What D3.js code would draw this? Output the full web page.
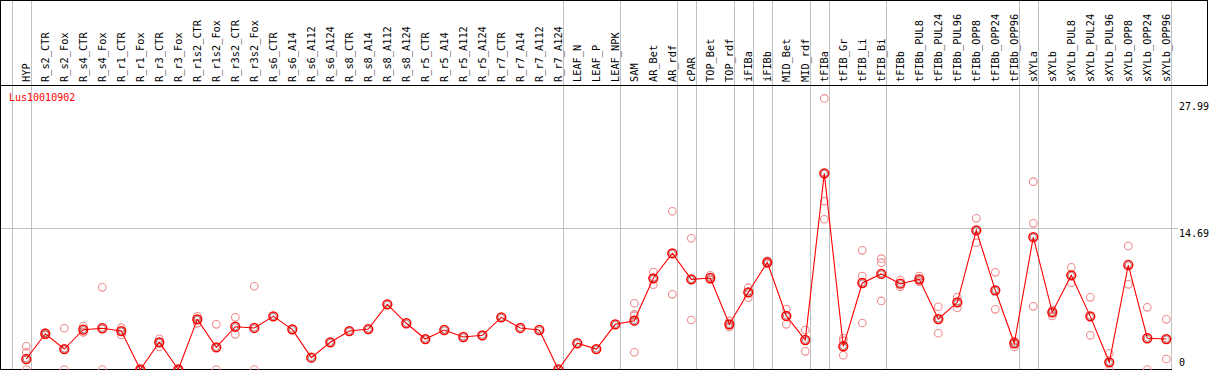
<!DOCTYPE html>
<html><head><meta charset="utf-8">
<script src="https://cdn.jsdelivr.net/npm/d3@7"></script>
<style>html,body{margin:0;padding:0;background:#fff;overflow:hidden}</style>
</head><body>
<svg id="c" width="1209" height="370"></svg>
<script>
const title = "Lus10010902";
const categories = ["HYP","R_s2_CTR","R_s2_Fox","R_s4_CTR","R_s4_Fox","R_r1_CTR","R_r1_Fox","R_r3_CTR","R_r3_Fox","R_r1s2_CTR","R_r1s2_Fox","R_r3s2_CTR","R_r3s2_Fox","R_s6_CTR","R_s6_A14","R_s6_A112","R_s6_A124","R_s8_CTR","R_s8_A14","R_s8_A112","R_s8_A124","R_r5_CTR","R_r5_A14","R_r5_A112","R_r5_A124","R_r7_CTR","R_r7_A14","R_r7_A112","R_r7_A124","LEAF_N","LEAF_P","LEAF_NPK","SAM","AR_Bet","AR_rdf","cPAR","TOP_Bet","TOP_rdf","iFIBa","iFIBb","MID_Bet","MID_rdf","tFIBa","tFIB_Gr","tFIB_Li","tFIB_Bi","tFIBb","tFIBb_PUL8","tFIBb_PUL24","tFIBb_PUL96","tFIBb_OPP8","tFIBb_OPP24","tFIBb_OPP96","sXYLa","sXYLb","sXYLb_PUL8","sXYLb_PUL24","sXYLb_PUL96","sXYLb_OPP8","sXYLb_OPP24","sXYLb_OPP96"];
const means = [1.09,3.72,2.13,4.14,4.29,4.0,0,2.83,0,5.22,2.31,4.45,4.32,5.53,4.18,1.23,2.83,4.0,4.21,6.78,4.81,3.17,4.11,3.38,3.56,5.43,4.32,4.11,0,2.73,2.13,4.7,5.08,9.49,12.09,9.38,9.52,4.7,8.03,11.15,5.57,3.07,20.41,2.41,9.0,9.94,8.93,9.38,5.25,6.99,14.48,8.24,2.73,13.78,5.95,9.8,5.53,0.75,10.87,3.25,3.17];
const replicates = [[2.41,1.79,0],[3.85,3.6],[4.29,0],[4.49,3.87],[8.55,0],[4.35,3.59],[0,0],[3.2,2.34],[0,0],[5.53,4.8],[4.7,0],[5.43,3.66],[8.66,0],[],[],[],[],[],[],[],[],[],[],[],[],[],[],[],[],[],[],[],[6.89,5.74,5.6,1.79],[10.14,8.82],[16.46,7.82],[13.65,5.15],[9.8,9.31],[5.05,4.42],[8.51,7.47],[11.3,11.0],[6.29,4.7],[4.11,1.89],[28.2,17.5,15.63],[3.25,3.0,1.48],[12.4,9.73,4.84],[11.53,11.11,7.13],[9.3,8.6],[9.73,9.14],[6.53,3.77],[7.54,6.4],[15.73,13.19],[10.11,6.26],[2.95,2.34],[19.54,15.21,6.57],[6.19,5.57],[10.63,9.03],[7.51,3.56],[1.69,0],[12.85,8.86],[6.47,0],[5.22,1.09]];
const groupEnds = ["HYP","R_r7_A124","LEAF_NPK","AR_rdf","cPAR","TOP_rdf","iFIBa","iFIBb","MID_rdf","tFIBa","tFIB_Bi","tFIBb_OPP96","sXYLa","sXYLb_OPP96"];
const tickValues = [0, 14.69, 27.99];
const yMax = 29.38;

const svg = d3.select("#c");
const font = "'DejaVu Sans Mono', monospace";
const x = d3.scalePoint().domain(categories).range([26.3, 1166.3]);
const step = x.step();
const y = d3.scaleLinear().domain([0, yMax]).range([369.5, 87.1]);

const g0 = svg.append("g").attr("shape-rendering","crispEdges");
const sepX = [x(categories[0]) - step + 4.2].concat(groupEnds.map(c => x(c) + 4.2));
g0.selectAll("line.sep").data(sepX).join("line")
  .attr("x1", d => Math.round(d)+0.5).attr("x2", d => Math.round(d)+0.5)
  .attr("y1", 0).attr("y2", 370).attr("stroke", "#c0c0c0").attr("stroke-width", 1);
g0.append("line").attr("x1", 0).attr("x2", 1178)
  .attr("y1", Math.round(y(14.69))+0.5).attr("y2", Math.round(y(14.69))+0.5)
  .attr("stroke", "#c0c0c0");
g0.append("line").attr("x1",0).attr("x2",1208).attr("y1",0.5).attr("y2",0.5).attr("stroke","#000");
g0.append("line").attr("x1",0).attr("x2",1208).attr("y1",85.5).attr("y2",85.5).attr("stroke","#000");
g0.append("line").attr("x1",1207.5).attr("x2",1207.5).attr("y1",0).attr("y2",86).attr("stroke","#000");
g0.append("line").attr("x1",0.5).attr("x2",0.5).attr("y1",0).attr("y2",370).attr("stroke","#000");
g0.append("line").attr("x1",0).attr("x2",1172).attr("y1",369.5).attr("y2",369.5).attr("stroke","#000");

svg.append("g").selectAll("text").data(categories).join("text")
  .attr("transform", d => `translate(${x(d)+3.8},82) rotate(-90)`)
  .attr("font-family", font).attr("font-size", 10.3).attr("fill", "#000")
  .text(d => d);

svg.append("text").attr("x", 9).attr("y", 101).attr("font-family", font)
  .attr("font-size", 10).attr("fill", "#ff0000").text(title);

svg.append("g").selectAll("text").data(tickValues).join("text")
  .attr("x", 1179)
  .attr("y", d => Math.min(y(d) + 8.5, 365.5) + (d === 27.99 ? 1.5 : 0))
  .attr("font-family", font).attr("font-size", 10).attr("fill", "#000")
  .text(d => d === 0 ? "0" : d.toFixed(2));

const repPts = [];
replicates.forEach((arr, i) => arr.forEach(v => repPts.push({c: categories[i], v})));
svg.append("g").selectAll("circle").data(repPts).join("circle")
  .attr("cx", d => x(d.c)).attr("cy", d => y(d.v)).attr("r", 3.8)
  .attr("fill", "none").attr("stroke", "#ee8c8c").attr("stroke-width", 1.1);

const data = categories.map((c, i) => ({c, v: means[i]}));
svg.append("path").datum(data)
  .attr("d", d3.line().x(d => x(d.c)).y(d => y(d.v)))
  .attr("fill", "none").attr("stroke", "#ff0000").attr("stroke-width", 1.1);

const mg = svg.append("g").selectAll("g").data(data).join("g")
  .attr("transform", d => `translate(${x(d.c)},${y(d.v)})`);
mg.append("circle").attr("r", 4.4).attr("fill", "none").attr("stroke", "#ff0000").attr("stroke-width", 1.5);
mg.append("circle").attr("r", 3.1).attr("fill", "none").attr("stroke", "#600000").attr("stroke-width", 0.5);
</script>
</body></html>
